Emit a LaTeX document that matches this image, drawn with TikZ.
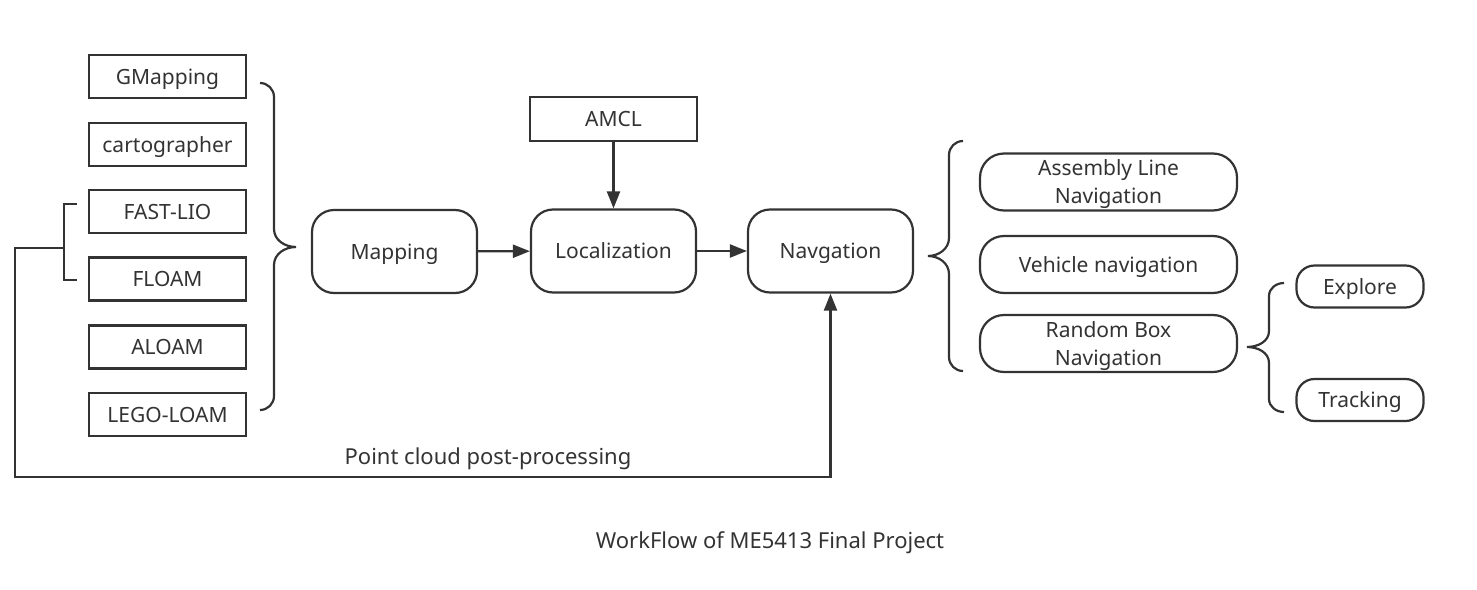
\documentclass[tikz,border=0pt]{standalone}
\usepackage{fontspec}
\setmainfont{Noto Sans}
\usetikzlibrary{arrows.meta}
\definecolor{inkGray}{HTML}{333333}

\begin{document}
\begin{tikzpicture}[x=0.5pt, y=-0.5pt,
    line width=1.1pt,
    draw=inkGray,
    text=inkGray,
    font=\fontsize{10.5}{14}\selectfont,
    every node/.append style={text depth=0pt},
    % --- Styles ---
    algoBlock/.style={
      draw,
      rectangle,
      minimum width=78.5pt,
      minimum height=21.5pt,
      inner sep=0pt
    },
    stageNode/.style={
      draw,
      rounded corners=11pt,
      minimum width=82.5pt,
      minimum height=41.5pt,
      inner sep=0pt
    },
    taskNode/.style={
      draw,
      rounded corners=12pt,
      minimum width=128.5pt,
      minimum height=28.5pt,
      inner sep=0pt,
      align=center
    },
    subNode/.style={
      draw,
      rounded corners=9pt,
      minimum width=63.5pt,
      minimum height=21pt,
      inner sep=0pt
    },
    flowArrow/.style={
      -{Triangle[length=8.5pt,width=6.5pt]}
    },
    plainText/.style={
      font=\fontsize{11}{14}\selectfont
    }
]
\useasboundingbox (0,0) rectangle (1477,589);

%=====================
% Column A: mapping algorithms
%=====================
\node[algoBlock] (gmap) at (167.5,76.5) {GMapping};
\node[algoBlock] (carto) at (167.5,144.5) {cartographer};
\node[algoBlock] (fastlio) at (167.5,211.5) {FAST-LIO};
\node[algoBlock] (floam) at (167.5,279) {FLOAM};
\node[algoBlock] (aloam) at (167.5,347) {ALOAM};
\node[algoBlock] (lego) at (167.5,414.5) {LEGO-LOAM};
\coordinate (braceLTop) at (260,83);
\coordinate (braceLBot) at (260,410);
\draw (braceLTop) to[out=0,in=90] (274,97) -- (274,229)
  to[out=270,in=180] (296,247) to[out=180,in=90] (274,265)
  -- (274,396) to[out=270,in=0] (braceLBot);

% bracket round FAST-LIO and FLOAM
\coordinate (brkTop) at (77,204);
\coordinate (brkBot) at (77,280);
\coordinate (brkMid) at (64,248);
\draw (brkTop) -- (64,204) -- (64,280) -- (brkBot);

%=====================
% Row B: main pipeline
%=====================
\node[stageNode] (mapping) at (394.5,251.5) {Mapping};
\node[stageNode] (local) at (613.5,251) {Localization};
\node[stageNode] (navi) at (830.5,251) {Navgation};
\node[algoBlock, minimum width=83.5pt, minimum height=22pt] (amcl) at (613.5,119) {AMCL};
\draw[flowArrow] (mapping) -- (local);
\draw[flowArrow] (local) -- (navi);
\draw[flowArrow] (amcl) -- (local);

% feedback line
\coordinate (fbCorner) at (15,477);
\draw[flowArrow] (brkMid) -| (fbCorner) -| (navi.south);
\node[plainText] (fbLabel) at (488,456) {Point cloud post-processing};

%=====================
% Column C: navigation tasks
%=====================
\coordinate (braceRTop) at (963,141);
\coordinate (braceRBot) at (963,371);
\draw (braceRTop) to[out=180,in=90] (949,155) -- (949,238)
  to[out=270,in=0] (928,256) to[out=0,in=90] (949,274)
  -- (949,357) to[out=270,in=180] (braceRBot);
\node[taskNode] (taskA) at (1108.5,182) {Assembly Line\\Navigation};
\node[taskNode] (taskB) at (1108.5,264.5) {Vehicle navigation};
\node[taskNode] (taskC) at (1108.5,343.5) {Random Box\\Navigation};

%=====================
% Column D: random box subtasks
%=====================
\coordinate (braceSTop) at (1284,283);
\coordinate (braceSBot) at (1284,412);
\draw (braceSTop) to[out=180,in=90] (1269,296) -- (1269,331)
  to[out=270,in=0] (1247,347) to[out=0,in=90] (1269,363)
  -- (1269,399) to[out=270,in=180] (braceSBot);
\node[subNode] (subA) at (1360,286.5) {Explore};
\node[subNode] (subB) at (1360,400) {Tracking};

% caption
\node[plainText] (caption) at (770,540) {WorkFlow of ME5413 Final Project};

\end{tikzpicture}
\end{document}
